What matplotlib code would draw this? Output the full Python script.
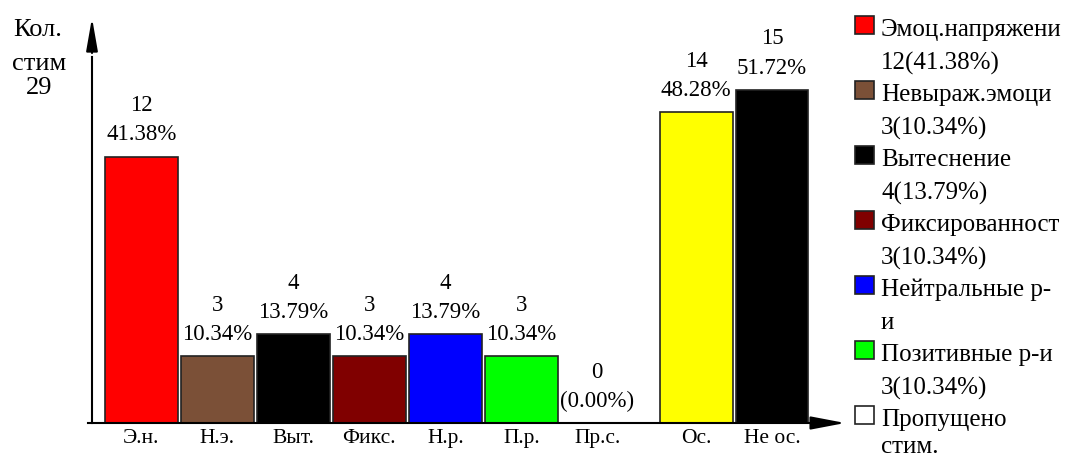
import matplotlib.pyplot as plt

plt.rcParams['font.family'] = ['Liberation Serif', 'DejaVu Serif']

# data
total = 29
categories = ['Э.н.', 'Н.э.', 'Выт.', 'Фикс.', 'Н.р.', 'П.р.', 'Пр.с.', 'Ос.', 'Не ос.']
counts = [12, 3, 4, 3, 4, 3, 0, 14, 15]
colors = ['#ff0000', '#7b5037', '#000000', '#800000', '#0000ff', '#00ff00',
          '#ffffff', '#ffff00', '#000000']

# legend lines as visible in the reference (two-line slots, cut at the right edge)
legend_first = ['Эмоц.напряжени', 'Невыраж.эмоци', 'Вытеснение', 'Фиксированност',
                'Нейтральные р-', 'Позитивные р-и', 'Пропущено']
legend_second = [None, None, None, None, 'и', None, 'стим.']

W, H = 1073, 461
fig = plt.figure(figsize=(W / 100, H / 100), dpi=100)


def fx(x):
    return x / W


def fy(y):
    return 1 - y / H


# axes box: y axis at x=92, baseline at y=423, top (arrow tip) at y=15
ax = fig.add_axes([fx(92), fy(423), fx(848) - fx(92), fy(15) - fy(423)])

# first group of 7 bars, then a small gap before the last two
pos = [i if i < 7 else i + 0.3 for i in range(len(counts))]
ax.bar(pos, counts, width=0.96, color=colors, edgecolor='#222222', linewidth=1.2, zorder=2)

ax.set_xlim(-0.65, 9.30)
ax.set_ylim(0, 408 / 22.2)

for p, c in zip(pos, counts):
    pct = c / total * 100
    pct_txt = f'{pct:.2f}%' if c > 0 else f'({pct:.2f}%)'
    ax.annotate(pct_txt, (p, c), xytext=(0, 22), textcoords='offset pixels',
                ha='center', va='center', fontsize=16.5)
    ax.annotate(str(c), (p, c), xytext=(0, 51), textcoords='offset pixels',
                ha='center', va='center', fontsize=16.5)

ax.set_xticks(pos)
ax.set_xticklabels(categories, fontsize=15.5)
ax.tick_params(axis='x', length=0, pad=4)
ax.set_yticks([])

for s in ['top', 'right']:
    ax.spines[s].set_visible(False)
ax.spines['left'].set_linewidth(1.5)
ax.spines['bottom'].set_linewidth(1.5)
ax.spines['bottom'].set_bounds(-0.70, 8.9)
ax.spines['left'].set_bounds(0, 16.5)

# axis arrows
ax.annotate('', xy=(0, 1), xycoords='axes fraction', xytext=(0, 0.9),
            arrowprops=dict(arrowstyle='-|>,head_length=2.0,head_width=0.35',
                            color='black', lw=1.5))
ax.annotate('', xy=(1, 0), xycoords='axes fraction', xytext=(0.95, 0),
            arrowprops=dict(arrowstyle='-|>,head_length=2.1,head_width=0.4',
                            color='black', lw=1.5))

# y axis caption
fig.text(fx(38), fy(30), 'Кол.', ha='center', va='center', fontsize=19)
fig.text(fx(39), fy(64), 'стим', ha='center', va='center', fontsize=19)
fig.text(fx(39), fy(88), str(total), ha='center', va='center', fontsize=19)

# legend drawn by hand
for i, name in enumerate(legend_first):
    top = 16 + 65 * i
    sq = plt.Rectangle((fx(855), fy(top + 18)), fx(19), fy(0) - fy(18),
                       transform=fig.transFigure, facecolor=colors[i],
                       edgecolor='#222222', linewidth=1.2)
    fig.add_artist(sq)
    fig.text(fx(881), fy(top + 14), name, ha='left', va='center', fontsize=18)
    second = legend_second[i]
    if second is None:
        pct = counts[i] / total * 100
        second = f'{counts[i]}({pct:.2f}%)'
    fig.text(fx(881), fy(min(top + 47, 447)), second, ha='left', va='center', fontsize=18)

fig.savefig('out.png', dpi=100)
